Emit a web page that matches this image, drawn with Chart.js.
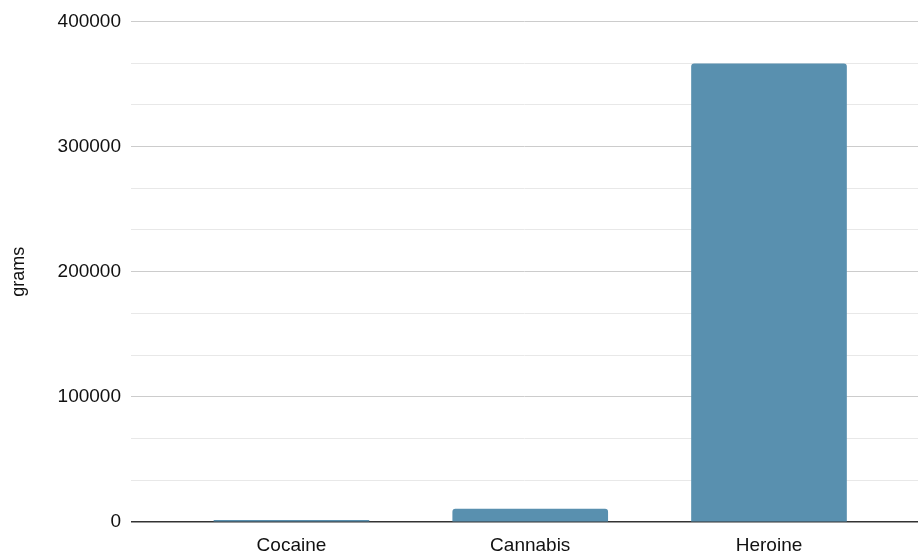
<!DOCTYPE html>
<html>
<head>
<meta charset="utf-8">
<script src="https://cdn.jsdelivr.net/npm/chart.js@4.4.1/dist/chart.umd.min.js"></script>
<style>
  html, body { margin: 0; padding: 0; background: #fff; overflow: hidden; }
  #wrap { width: 918px; height: 556px; position: relative; }
</style>
</head>
<body>
<div id="wrap"><canvas id="myChart"></canvas></div>
<script>
var drugs = ["Cocaine", "Cannabis", "Heroine"];
var grams = [1400, 10400, 366000];
var yTicks = [0, 100000, 200000, 300000, 400000];

Chart.defaults.font.family = "'Liberation Sans', Arial, sans-serif";
Chart.defaults.color = "#222";

// bars sit at x = 1, 2, 3 on a linear axis so the side margins can be uneven
var points = drugs.map(function (d, i) {
    return { x: i + 1, y: grams[i] };
});

var ctx = document.getElementById("myChart");
var myChart = new Chart(ctx, {
    type: 'bar',
    data: {
        datasets: [
            {
                label: "grams",
                data: points,
                backgroundColor: "#5990af",
                borderRadius: 3,
                barThickness: 155
            }
        ]
    },
    options: {
        responsive: true,
        maintainAspectRatio: false,
        animation: false,
        layout: { padding: { top: 5, right: 0, left: 2, bottom: 0 } },
        plugins: {
            legend: { display: false },
            tooltip: { enabled: false }
        },
        scales: {
            x: {
                type: 'linear',
                offset: false,
                min: 0.328,
                max: 3.624,
                afterBuildTicks: function (axis) {
                    axis.ticks = drugs.map(function (d, i) { return { value: i + 1 }; });
                },
                afterFit: function (axis) { axis.height = 34; },
                ticks: {
                    autoSkip: false,
                    maxRotation: 0,
                    padding: 12,
                    font: { size: 19 },
                    color: "#111",
                    callback: function (v) { return drugs[v - 1]; }
                },
                grid: { display: false, drawTicks: false, offset: false },
                border: { display: false }
            },
            y: {
                min: 0,
                max: 400000,
                // three lighter lines between each labelled step
                afterBuildTicks: function (axis) {
                    var t = [];
                    for (var i = 0; i <= 12; i++) t.push({ value: i * 100000 / 3 });
                    axis.ticks = t;
                },
                ticks: {
                    padding: 10,
                    font: { size: 19 },
                    color: "#111",
                    callback: function (v, i) { return i % 3 === 0 ? yTicks[i / 3] : ''; }
                },
                grid: {
                    drawTicks: false,
                    lineWidth: function (c) { return c.index === 0 ? 1.5 : 1; },
                    color: function (c) {
                        if (c.index === 0) return "#333";
                        return c.index % 3 === 0 ? "#cccccc" : "#e8e8e8";
                    }
                },
                border: { display: false },
                title: {
                    display: true,
                    text: "grams",
                    font: { size: 18 },
                    color: "#111",
                    padding: { top: 6, bottom: 18 }
                }
            }
        }
    }
});
</script>
</body>
</html>
